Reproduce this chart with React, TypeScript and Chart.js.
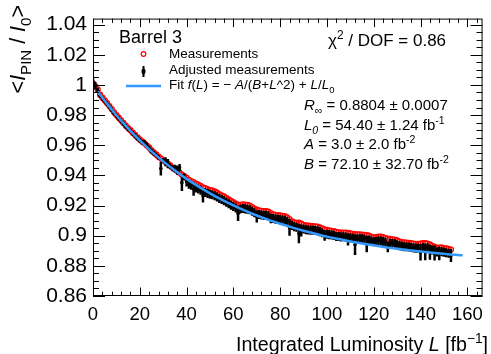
import React, { useEffect, useRef } from "react";
import { Chart, registerables } from "chart.js";
Chart.register(...registerables);

const FONT = '"Liberation Sans", Arial, Helvetica, sans-serif';

const lumi = [
  0, 1, 2, 3, 4, 5, 6, 7, 8, 9,
  10, 11, 12, 13, 14, 15, 16, 17, 18, 19,
  20, 21, 22, 23, 24, 25, 26, 27, 28, 29,
  30, 31, 32, 33, 34, 35, 36, 37, 38, 39,
  40, 41, 42, 43, 44, 45, 46, 47, 48, 49,
  50, 51, 52, 53, 54, 55, 56, 57, 58, 59,
  60, 61, 62, 63, 64, 65, 66, 67, 68, 69,
  70, 71, 72, 73, 74, 75, 76, 77, 78, 79,
  80, 81, 82, 83, 84, 85, 86, 87, 88, 89,
  90, 91, 92, 93, 94, 95, 96, 97, 98, 99,
  100, 101, 102, 103, 104, 105, 106, 107, 108, 109,
  110, 111, 112, 113, 114, 115, 116, 117, 118, 119,
  120, 121, 122, 123, 124, 125, 126, 127, 128, 129,
  130, 131, 132, 133, 134, 135, 136, 137, 138, 139,
  140, 141, 142, 143, 144, 145, 146, 147, 148, 149,
  150, 151, 152, 153,
];

const measured = [
  1.001, 0.999, 0.997, 0.9935, 0.9915, 0.9898, 0.988, 0.986, 0.984, 0.9818,
  0.98, 0.9783, 0.9765, 0.9748, 0.973, 0.9714, 0.97, 0.9683, 0.9668, 0.9652,
  0.9638, 0.9625, 0.9613, 0.9598, 0.9585, 0.9565, 0.9552, 0.9539, 0.9524, 0.9513,
  0.95, 0.9488, 0.9478, 0.9466, 0.9452, 0.944, 0.9429, 0.9418, 0.9405, 0.9395,
  0.9385, 0.937, 0.9362, 0.9355, 0.9345, 0.9338, 0.933, 0.932, 0.9315, 0.9308,
  0.9302, 0.93, 0.9293, 0.9285, 0.9275, 0.9268, 0.926, 0.925, 0.924, 0.923,
  0.9222, 0.9212, 0.9206, 0.9205, 0.9208, 0.9206, 0.9204, 0.92, 0.919, 0.918,
  0.9172, 0.9168, 0.9165, 0.9162, 0.9163, 0.916, 0.915, 0.9142, 0.9138, 0.9137,
  0.9134, 0.9132, 0.913, 0.9122, 0.911, 0.9095, 0.9088, 0.9085, 0.9086, 0.908,
  0.9072, 0.9068, 0.9066, 0.9065, 0.9064, 0.9062, 0.906, 0.9055, 0.9048, 0.9042,
  0.9038, 0.9035, 0.9032, 0.903, 0.9025, 0.9022, 0.902, 0.9021, 0.902, 0.9019,
  0.9015, 0.9012, 0.901, 0.9008, 0.9008, 0.9007, 0.9006, 0.9004, 0.9, 0.8992,
  0.8988, 0.899, 0.8994, 0.8993, 0.899, 0.8984, 0.898, 0.8978, 0.8976, 0.8974,
  0.8968, 0.8962, 0.8958, 0.8955, 0.8954, 0.8953, 0.895, 0.8947, 0.8945, 0.8946,
  0.8948, 0.895, 0.895, 0.8948, 0.8942, 0.8933, 0.8925, 0.892, 0.8921, 0.8922,
  0.8918, 0.8915, 0.8912, 0.8908,
];

const adjusted = [
  1.002, 0.9995, 0.9965, 0.993, 0.991, 0.9893, 0.9875, 0.9855, 0.9835, 0.9813,
  0.9795, 0.9778, 0.976, 0.9743, 0.9725, 0.9709, 0.9695, 0.9678, 0.9663, 0.9647,
  0.9633, 0.962, 0.9615, 0.96, 0.958, 0.956, 0.9547, 0.9534, 0.9519, 0.9445,
  0.9498, 0.949, 0.9478, 0.946, 0.9447, 0.9445, 0.9435, 0.945, 0.9352, 0.939,
  0.9357, 0.9342, 0.9334, 0.931, 0.9317, 0.931, 0.9302, 0.9265, 0.9287, 0.928,
  0.9275, 0.9272, 0.9265, 0.9257, 0.9247, 0.924, 0.9232, 0.9222, 0.9212, 0.9202,
  0.9194, 0.9184, 0.9148, 0.9177, 0.918, 0.9178, 0.9176, 0.9172, 0.9162, 0.9152,
  0.9128, 0.914, 0.9137, 0.9134, 0.9135, 0.9132, 0.9115, 0.9114, 0.911, 0.9109,
  0.9106, 0.9104, 0.9102, 0.9094, 0.9055, 0.9067, 0.906, 0.9057, 0.9015, 0.9035,
  0.9044, 0.904, 0.9038, 0.9037, 0.9036, 0.9034, 0.9032, 0.9027, 0.902, 0.9002,
  0.901, 0.9007, 0.9004, 0.9002, 0.8995, 0.8994, 0.8992, 0.8993, 0.8992, 0.8975,
  0.8987, 0.8984, 0.894, 0.898, 0.898, 0.8979, 0.8978, 0.8945, 0.8972, 0.8964,
  0.896, 0.8962, 0.8966, 0.8965, 0.8962, 0.8956, 0.8925, 0.895, 0.8948, 0.8946,
  0.894, 0.8934, 0.893, 0.8927, 0.8926, 0.8925, 0.8922, 0.8919, 0.8917, 0.8918,
  0.889, 0.8922, 0.8892, 0.892, 0.889, 0.8905, 0.8885, 0.8892, 0.8882, 0.8894,
  0.889, 0.8887, 0.8884, 0.8868,
];

const adjustedErr = [
  0.0028, 0.0025, 0.0016, 0.0016, 0.0016, 0.0016, 0.0016, 0.0016, 0.0016, 0.0016,
  0.0016, 0.0016, 0.0016, 0.0016, 0.0016, 0.0016, 0.0016, 0.0016, 0.0016, 0.0016,
  0.0016, 0.0016, 0.0019, 0.0019, 0.0016, 0.0016, 0.0016, 0.0016, 0.0016, 0.0045,
  0.0016, 0.003, 0.003, 0.0019, 0.0019, 0.0025, 0.003, 0.0025, 0.0055, 0.0024,
  0.003, 0.003, 0.003, 0.0045, 0.003, 0.003, 0.003, 0.0045, 0.003, 0.003,
  0.003, 0.003, 0.003, 0.003, 0.003, 0.003, 0.003, 0.003, 0.003, 0.003,
  0.003, 0.003, 0.005, 0.003, 0.003, 0.003, 0.003, 0.003, 0.003, 0.003,
  0.004, 0.003, 0.003, 0.003, 0.003, 0.003, 0.0033, 0.003, 0.003, 0.003,
  0.003, 0.003, 0.003, 0.003, 0.0055, 0.003, 0.003, 0.003, 0.0065, 0.004,
  0.003, 0.003, 0.003, 0.003, 0.003, 0.003, 0.003, 0.003, 0.003, 0.0036,
  0.003, 0.003, 0.003, 0.003, 0.003, 0.003, 0.003, 0.003, 0.003, 0.004,
  0.003, 0.003, 0.0068, 0.003, 0.003, 0.003, 0.003, 0.0055, 0.003, 0.003,
  0.003, 0.003, 0.003, 0.003, 0.003, 0.003, 0.0035, 0.003, 0.003, 0.003,
  0.003, 0.003, 0.003, 0.003, 0.003, 0.003, 0.003, 0.003, 0.003, 0.003,
  0.0055, 0.003, 0.0055, 0.003, 0.005, 0.003, 0.005, 0.003, 0.0045, 0.003,
  0.003, 0.003, 0.003, 0.0043,
];

const fitLumi = [2, 5, 10, 15, 20, 25, 30, 35, 40, 45, 50, 55, 60, 65, 70, 75, 80, 85, 90, 95, 100, 105, 110, 115, 120, 125, 130, 135, 140, 145, 150, 155, 158];
const fitValue = [0.9957, 0.9895, 0.9799, 0.9712, 0.9632, 0.9559, 0.9493, 0.9433, 0.9377, 0.9327, 0.9281, 0.9239, 0.9201, 0.9166, 0.9134, 0.9105, 0.9079, 0.9055, 0.9033, 0.9013, 0.8994, 0.8978, 0.8962, 0.8948, 0.8936, 0.8924, 0.8914, 0.8904, 0.8895, 0.8887, 0.888, 0.8873, 0.887];

const xTickValues = [0, 20, 40, 60, 80, 100, 120, 140, 160];
const yTickValues = [0.86, 0.88, 0.9, 0.92, 0.94, 0.96, 0.98, 1.0, 1.02, 1.04];

const X_MIN = 0, X_MAX = 166.5, Y_MIN = 0.86, Y_MAX = 1.044;
const BLUE = "#3399ff";

type Part = { t: string; i?: boolean; sub?: boolean; sup?: boolean };

function partFont(p: Part, size: number) {
  const s = p.sub || p.sup ? size * 0.7 : size;
  return `${p.i ? "italic " : ""}${s}px ${FONT}`;
}
function partsWidth(ctx: CanvasRenderingContext2D, parts: Part[], size: number) {
  let w = 0;
  for (const p of parts) {
    ctx.font = partFont(p, size);
    w += ctx.measureText(p.t).width;
  }
  return w;
}
function drawParts(ctx: CanvasRenderingContext2D, x: number, y: number, parts: Part[], size: number, align: "left" | "right" = "left") {
  const w = partsWidth(ctx, parts, size);
  let cx = align === "right" ? x - w : x;
  ctx.textAlign = "left";
  ctx.textBaseline = "alphabetic";
  for (const p of parts) {
    ctx.font = partFont(p, size);
    const dy = p.sub ? size * 0.27 : p.sup ? -size * 0.42 : 0;
    ctx.fillText(p.t, cx, y + dy);
    cx += ctx.measureText(p.t).width;
  }
}

const errorBars = {
  id: "errorBars",
  afterDatasetDraw(chart: any, args: any) {
    if (args.index !== 1) return;
    const { ctx, chartArea, scales } = chart;
    ctx.save();
    ctx.beginPath();
    ctx.rect(chartArea.left, chartArea.top, chartArea.right - chartArea.left, chartArea.bottom - chartArea.top);
    ctx.clip();
    ctx.strokeStyle = "#000";
    ctx.lineWidth = 2.5;
    for (let i = 0; i < lumi.length; i++) {
      const px = scales.x.getPixelForValue(lumi[i]);
      const y1 = scales.y.getPixelForValue(adjusted[i] - adjustedErr[i]);
      const y2 = scales.y.getPixelForValue(adjusted[i] + adjustedErr[i]);
      ctx.beginPath();
      ctx.moveTo(px, y1);
      ctx.lineTo(px, y2);
      ctx.stroke();
    }
    ctx.restore();
  },
};

const frameAndText = {
  id: "frameAndText",
  afterDraw(chart: any) {
    const { ctx, chartArea, scales } = chart;
    const { left, right, top, bottom } = chartArea;
    const xs = scales.x, ys = scales.y;
    ctx.save();
    ctx.strokeStyle = "#000";
    ctx.fillStyle = "#000";
    ctx.lineWidth = 1;
    ctx.strokeRect(left + 0.5, top + 0.5, right - left - 1, bottom - top - 1);
    const seg = (x1: number, y1: number, x2: number, y2: number) => {
      ctx.beginPath();
      ctx.moveTo(x1, y1);
      ctx.lineTo(x2, y2);
      ctx.stroke();
    };
    for (let k = 0; k * 4 <= X_MAX; k++) {
      const v = k * 4;
      const px = Math.round(xs.getPixelForValue(v)) + 0.5;
      const len = k % 5 === 0 ? 8.5 : 4.3;
      seg(px, bottom, px, bottom - len);
      seg(px, top, px, top + len);
    }
    for (let k = 0; Y_MIN + k * 0.005 <= Y_MAX + 1e-9; k++) {
      const v = Y_MIN + k * 0.005;
      const py = Math.round(ys.getPixelForValue(v)) + 0.5;
      const len = k % 4 === 0 ? 12 : 6;
      seg(left, py, left + len, py);
      seg(right, py, right - len, py);
    }

    // axis titles
    drawParts(ctx, 488, 351, [
      { t: "Integrated Luminosity " }, { t: "L", i: true }, { t: " [fb" }, { t: "\u22121", sup: true }, { t: "]" },
    ], 19.6, "right");

    ctx.save();
    ctx.translate(25, 5);
    ctx.rotate(-Math.PI / 2);
    drawParts(ctx, 0, 0, [
      { t: "<" }, { t: "I", i: true }, { t: "PIN", sub: true }, { t: " / " }, { t: "I", i: true }, { t: "0", sub: true }, { t: ">" },
    ], 21.5, "right");
    ctx.restore();

    // labels
    drawParts(ctx, 119, 43, [{ t: "Barrel 3" }], 18);
    drawParts(ctx, 328, 46, [{ t: "\u03c7" }, { t: "2", sup: true }, { t: " / DOF = 0.86" }], 17);

    // legend
    ctx.strokeStyle = "#ff0000";
    ctx.lineWidth = 1.2;
    ctx.beginPath();
    ctx.arc(143.5, 54, 2.3, 0, Math.PI * 2);
    ctx.stroke();
    ctx.fillStyle = "#000";
    ctx.strokeStyle = "#000";
    ctx.lineWidth = 2;
    seg(143.5, 66, 143.5, 77);
    ctx.beginPath();
    ctx.ellipse(143.5, 71.5, 2, 3, 0, 0, Math.PI * 2);
    ctx.fill();
    ctx.strokeStyle = BLUE;
    ctx.lineWidth = 2.5;
    seg(126, 86, 161, 86);

    ctx.fillStyle = "#000";
    drawParts(ctx, 169, 58, [{ t: "Measurements" }], 13.5);
    drawParts(ctx, 169, 74, [{ t: "Adjusted measurements" }], 13.5);
    drawParts(ctx, 169, 89, [
      { t: "Fit " }, { t: "f", i: true }, { t: "(" }, { t: "L", i: true }, { t: ") = \u2212 " },
      { t: "A", i: true }, { t: "/(" }, { t: "B", i: true }, { t: "+" }, { t: "L", i: true },
      { t: "^2) + " }, { t: "L", i: true }, { t: "/" }, { t: "L", i: true }, { t: "0", sub: true },
    ], 13.5);

    // fit parameters
    drawParts(ctx, 304, 110, [{ t: "R", i: true }, { t: "\u221e", sub: true }, { t: " = 0.8804 \u00b1 0.0007" }], 15);
    drawParts(ctx, 304, 130, [{ t: "L", i: true }, { t: "0", sub: true, i: true }, { t: " = 54.40 \u00b1 1.24 fb" }, { t: "-1", sup: true }], 15);
    drawParts(ctx, 304, 149, [{ t: "A", i: true }, { t: " = 3.0 \u00b1 2.0 fb" }, { t: "-2", sup: true }], 15);
    drawParts(ctx, 304, 169, [{ t: "B", i: true }, { t: " = 72.10 \u00b1 32.70 fb" }, { t: "-2", sup: true }], 15);
    ctx.restore();
  },
};

export default function App() {
  const ref = useRef<HTMLCanvasElement | null>(null);
  useEffect(() => {
    if (!ref.current) return;
    const chart = new Chart(ref.current, {
      type: "scatter",
      data: {
        datasets: [
          {
            type: "line",
            label: "Fit",
            data: fitLumi.map((x, i) => ({ x, y: fitValue[i] })),
            borderColor: BLUE,
            borderWidth: 2.5,
            pointRadius: 0,
            cubicInterpolationMode: "monotone",
            fill: false,
            order: 0,
          } as any,
          {
            label: "Adjusted measurements",
            data: lumi.map((x, i) => ({ x, y: adjusted[i] })),
            pointRadius: 1.8,
            backgroundColor: "#000",
            borderColor: "#000",
            borderWidth: 0,
            showLine: false,
            order: 1,
          },
          {
            label: "Measurements",
            data: lumi.map((x, i) => ({ x, y: measured[i] })),
            pointRadius: 2.5,
            backgroundColor: "rgba(0,0,0,0)",
            borderColor: "#ff0000",
            borderWidth: 1.3,
            showLine: false,
            order: 2,
          },
        ],
      },
      options: {
        animation: false,
        responsive: false,
        layout: { padding: { left: 0, right: 6, top: 16, bottom: 0 } },
        plugins: { legend: { display: false }, tooltip: { enabled: false } },
        scales: {
          x: {
            type: "linear",
            min: X_MIN,
            max: X_MAX,
            afterFit: (s: any) => { s.height = 58; },
            afterBuildTicks: (s: any) => { s.ticks = xTickValues.map((value) => ({ value })); },
            grid: { display: false, drawTicks: false },
            border: { display: false },
            ticks: { color: "#000", font: { family: FONT, size: 18.5 }, padding: 8, maxRotation: 0, autoSkip: false },
          },
          y: {
            type: "linear",
            min: Y_MIN,
            max: Y_MAX,
            afterFit: (s: any) => { s.width = 93; },
            afterBuildTicks: (s: any) => { s.ticks = yTickValues.map((value) => ({ value })); },
            grid: { display: false, drawTicks: false },
            border: { display: false },
            ticks: {
              color: "#000",
              font: { family: FONT, size: 21 },
              padding: 6,
              autoSkip: false,
              callback: (v: any) => String(parseFloat(Number(v).toFixed(4))),
            },
          },
        },
      },
      plugins: [errorBars, frameAndText],
    });
    return () => chart.destroy();
  }, []);
  return (
    <div style={{ position: "fixed", left: 0, top: 0, width: 491, height: 354, background: "#fff" }}>
      <canvas ref={ref} width={491} height={354} style={{ display: "block" }} />
    </div>
  );
}
